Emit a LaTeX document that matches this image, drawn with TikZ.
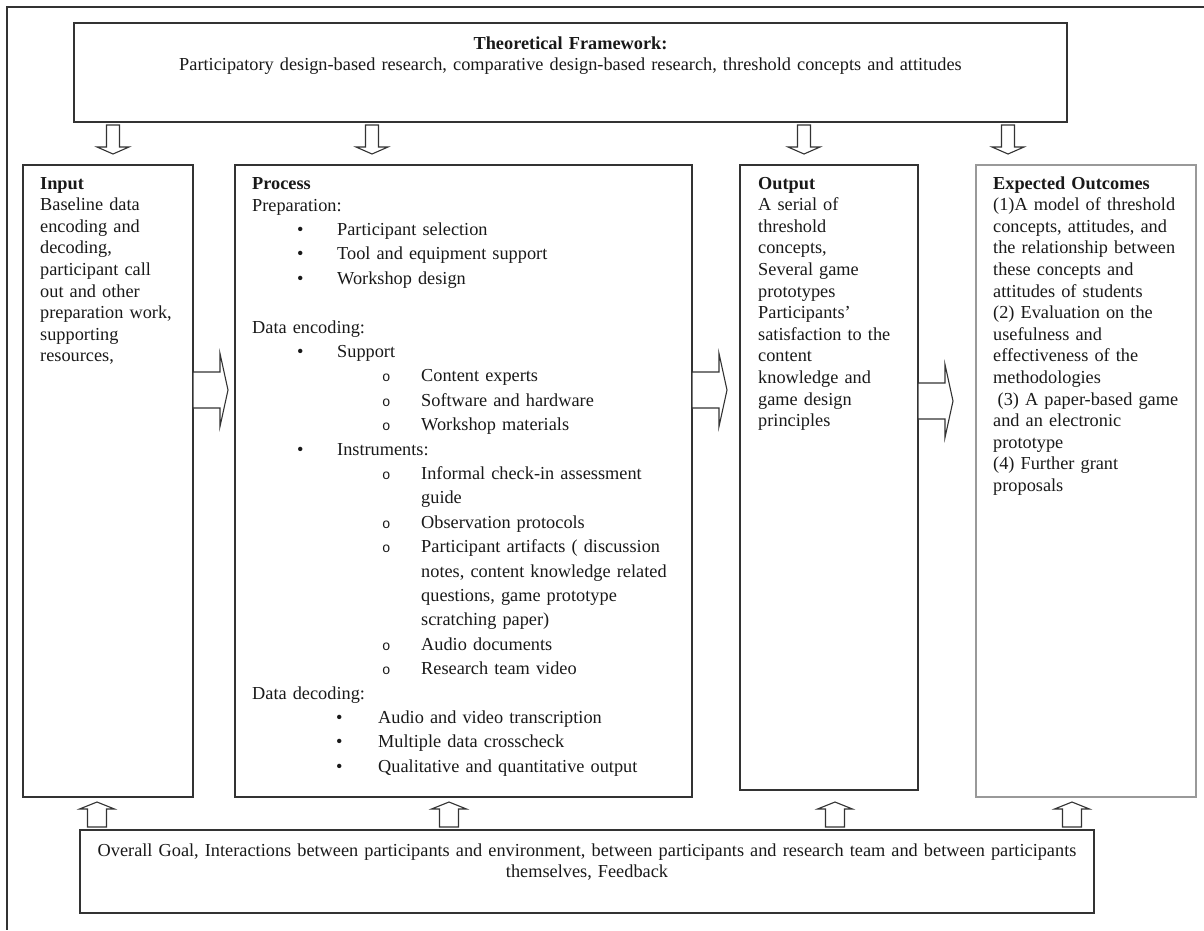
\documentclass[tikz,border=0pt]{standalone}
\usepackage{fontspec}
\setmainfont{Liberation Serif}
\newfontfamily\circfont{Liberation Mono}

% Viñetas de la lista del proceso
\newcommand{\ptitem}[1]{\hspace*{45pt}\makebox[40pt][l]{\textbullet}#1}
\newcommand{\ocitem}[1]{\hspace*{130pt}\makebox[39pt][l]{{\circfont\fontsize{14}{14}\selectfont o}}#1}
\newcommand{\ocmore}[1]{\hspace*{169pt}#1}
\newcommand{\dcitem}[1]{\hspace*{84pt}\makebox[42pt][l]{\textbullet}#1}

\tikzset{
  frameline/.style={draw=black!80, line width=1.1pt},
  box/.style={draw=black!80, line width=1.1pt, inner sep=0pt, outer sep=0pt, anchor=north west},
  txt/.style={inner sep=0pt, anchor=base west, align=left, text width=#1,
    text=black!90, font=\fontsize{18.3}{21.6}\selectfont},
  arrowline/.style={draw=black!80, line width=1.1pt, fill=white, line join=miter},
  downarr/.pic={\draw[arrowline] (-6.5,0) -- (-6.5,22) -- (-16,22) -- (0,29)
    -- (16,22) -- (6.5,22) -- (6.5,0) -- cycle;},
  uparr/.pic={\draw[arrowline] (-9.5,0) -- (-9.5,-18) -- (-17.5,-18) -- (0,-25)
    -- (17.5,-18) -- (9.5,-18) -- (9.5,0) -- cycle;},
  rightarr/.pic={\draw[arrowline] (0,-18) -- (27,-18) -- (27,-36.5) -- (35,0)
    -- (27,36.5) -- (27,18) -- (0,18) -- cycle;}
}

\begin{document}
\begin{tikzpicture}[x=1pt, y=-1pt]

    % Marco exterior
    \useasboundingbox (0,0) rectangle (1204,930);
    \draw[frameline] (1204,7) -- (7,7) -- (7,930);

    % Cajas
    \node[box, minimum width=993, minimum height=99] (theory) at (74,23) {};
    \node[box, minimum width=170, minimum height=632] (input) at (23,165) {};
    \node[box, minimum width=457, minimum height=632] (process) at (235,165) {};
    \node[box, minimum width=178, minimum height=625] (output) at (740,165) {};
    \node[box, draw=black!40, minimum width=220, minimum height=632] (outcomes) at (976,165) {};
    \node[box, minimum width=1014, minimum height=83] (goal) at (80,830) {};

    % Textos
    \node[txt=1000, align=center, anchor=base] (theorytxt) at ([yshift=-26pt]theory.north)
      {\textbf{Theoretical Framework:}\\
       Participatory design-based research, comparative design-based research, threshold concepts and attitudes};

    \node[txt=300] (inputtxt) at ([xshift=17pt, yshift=-24pt]input.north west)
      {\textbf{Input}\\ Baseline data\\ encoding and\\ decoding,\\ participant call\\
       out and other\\ preparation work,\\ supporting\\ resources,};

    \node[txt=500, font=\fontsize{18.3}{24.4}\selectfont] (processtxt) at ([xshift=17pt, yshift=-24pt]process.north west)
      {\textbf{Process}\\[-2.4pt]
       Preparation:\\
       \ptitem{Participant selection}\\
       \ptitem{Tool and equipment support}\\
       \ptitem{Workshop design}\\[24.4pt]
       Data encoding:\\
       \ptitem{Support}\\
       \ocitem{Content experts}\\
       \ocitem{Software and hardware}\\
       \ocitem{Workshop materials}\\
       \ptitem{Instruments:}\\
       \ocitem{Informal check-in assessment}\\
       \ocmore{guide}\\
       \ocitem{Observation protocols}\\
       \ocitem{Participant artifacts ( discussion}\\
       \ocmore{notes, content knowledge related}\\
       \ocmore{questions, game prototype}\\
       \ocmore{scratching paper)}\\
       \ocitem{Audio documents}\\
       \ocitem{Research team video}\\
       Data decoding:\\
       \dcitem{Audio and video transcription}\\
       \dcitem{Multiple data crosscheck}\\
       \dcitem{Qualitative and quantitative output}};

    \node[txt=300] (outputtxt) at ([xshift=18pt, yshift=-24pt]output.north west)
      {\textbf{Output}\\ A serial of\\ threshold\\ concepts,\\ Several game\\ prototypes\\
       Participants’\\ satisfaction to the\\ content\\ knowledge and\\ game design\\ principles};

    \node[txt=300] (outcomestxt) at ([xshift=17pt, yshift=-24pt]outcomes.north west)
      {\textbf{Expected Outcomes}\\ (1)A model of threshold\\ concepts, attitudes, and\\
       the relationship between\\ these concepts and\\ attitudes of students\\
       (2) Evaluation on the\\ usefulness and\\ effectiveness of the\\ methodologies\\
       \hspace*{4.5pt}(3) A paper-based game\\ and an electronic\\ prototype\\
       (4) Further grant\\ proposals};

    \node[txt=1100, align=center, anchor=base] (goaltxt) at ([yshift=-26pt]goal.north)
      {Overall Goal, Interactions between participants and environment, between participants and research team and between participants\\
       themselves, Feedback};

    % Flechas
    \foreach \x in {113, 372, 804, 1008}
      \pic at (\x,125) {downarr};
    \foreach \x in {97, 449, 835, 1072}
      \pic at (\x,827) {uparr};
    \pic at ([yshift=-225pt]input.north east) {rightarr};
    \pic at ([yshift=-225pt]process.north east) {rightarr};
    \pic at ([yshift=-236pt]output.north east) {rightarr};

\end{tikzpicture}
\end{document}
